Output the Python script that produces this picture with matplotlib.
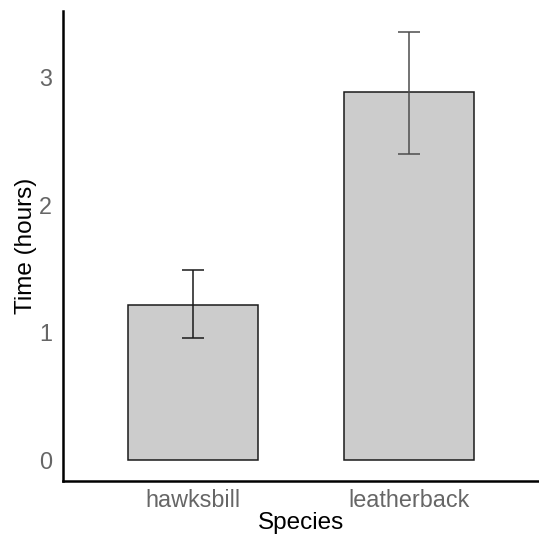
import matplotlib.pyplot as plt
import numpy as np

species = ['hawksbill', 'leatherback']
mean_time = [1.21, 2.88]
err_low = [0.95, 2.40]
err_high = [1.49, 3.35]
err_colors = ['#1a1a1a', '#4d4d4d']

plt.rcParams['font.family'] = ['Liberation Sans', 'DejaVu Sans']

fig = plt.figure(figsize=(5.39, 5.36), dpi=100)
ax = fig.add_axes([63 / 539, 1 - 481 / 536, 1 - 63 / 539, (481 - 11) / 536])

x = np.arange(1, len(species) + 1)
ax.bar(x, mean_time, width=0.6, color='#cccccc', edgecolor='#1a1a1a', linewidth=1.1)

# error bars drawn one by one so each can take its own colour
for xi, m, lo, hi, c in zip(x, mean_time, err_low, err_high, err_colors):
    ax.errorbar(xi, m, yerr=[[m - lo], [hi - m]], fmt='none', ecolor=c,
                elinewidth=1.1, capsize=7.6, capthick=1.1)

ymax = max(err_high)
pad = ymax * 0.05
ax.set_ylim(-pad, ymax + pad)
ax.set_xlim(0.4, 2.6)

ax.set_xticks(x)
ax.set_xticklabels(species)
ax.set_yticks([0, 1, 2, 3])
ax.tick_params(length=0, labelsize=16.8, labelcolor='#666666')
ax.tick_params(axis='x', pad=6)
ax.tick_params(axis='y', pad=8)

ax.set_xlabel('Species', fontsize=17.5, color='black', labelpad=0)
ax.set_ylabel('Time (hours)', fontsize=17.5, color='black', labelpad=1)

for s in ['top', 'right']:
    ax.spines[s].set_visible(False)
for s in ['left', 'bottom']:
    ax.spines[s].set_linewidth(1.8)
    ax.spines[s].set_color('black')

fig.savefig('out.png', dpi=100)
